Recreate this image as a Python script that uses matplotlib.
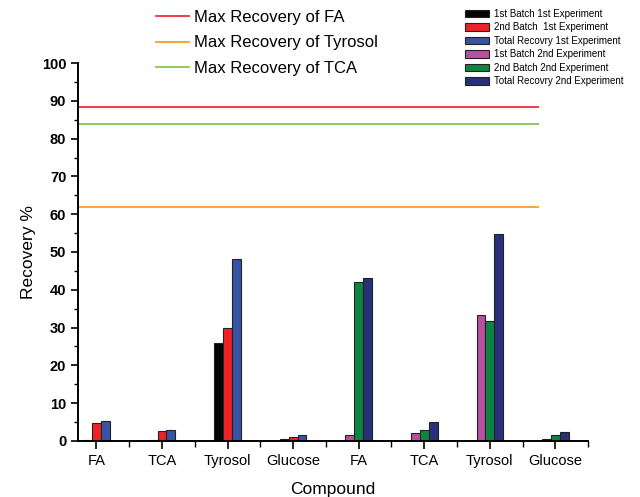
import numpy as np
import matplotlib
matplotlib.use("Agg")
import matplotlib.pyplot as plt
from matplotlib.lines import Line2D
from matplotlib.patches import Patch
from matplotlib.ticker import MultipleLocator

plt.rcParams['font.family'] = ['Liberation Sans', 'DejaVu Sans']

# data
compounds = ['FA', 'TCA', 'Tyrosol', 'Glucose', 'FA', 'TCA', 'Tyrosol', 'Glucose']

# experiment 1 (first four groups)
batch1_exp1 = [0.2, 0.2, 25.8, 0.4]
batch2_exp1 = [4.8, 2.7, 30.0, 1.1]
total_exp1 = [5.2, 3.0, 48.2, 1.6]

# experiment 2 (last four groups)
batch1_exp2 = [1.6, 2.0, 33.4, 0.4]
batch2_exp2 = [42.0, 2.8, 31.8, 1.6]
total_exp2 = [43.2, 5.1, 54.8, 2.3]

max_fa = 88.3
max_tyrosol = 61.8
max_tca = 83.8

series_names = ['1st Batch 1st Experiment', '2nd Batch  1st Experiment',
                'Total Recovry 1st Experiment', '1st Batch 2nd Experiment',
                '2nd Batch 2nd Experiment', 'Total Recovry 2nd Experiment']
bar_colors = ['#050505', '#ee2226', '#3953a4', '#b8509e', '#0e8442', '#28307a']

# figure
fig = plt.figure(figsize=(6.4, 4.97), dpi=100)
ax = fig.add_axes([0.122, 0.113, 0.797, 0.760])

x1 = np.arange(4)
x2 = np.arange(4, 8)
w = 0.135

exp1 = [batch1_exp1, batch2_exp1, total_exp1]
exp2 = [batch1_exp2, batch2_exp2, total_exp2]
for k, vals in enumerate(exp1):
    ax.bar(x1 + (k - 1) * w, vals, w, color=bar_colors[k],
           edgecolor='#222222', linewidth=0.8)
for k, vals in enumerate(exp2):
    ax.bar(x2 + (k - 1) * w, vals, w, color=bar_colors[k + 3],
           edgecolor='#222222', linewidth=0.8)

line_end = 6.75
ax.hlines(max_fa, -0.3, line_end, color='#ed1c24', lw=1.2)
ax.hlines(max_tca, -0.3, line_end, color='#7ac143', lw=1.2)
ax.hlines(max_tyrosol, -0.3, line_end, color='#f7941d', lw=1.2)

ax.set_xlim(-0.28, 7.33)
ax.set_ylim(0, 100)
ax.yaxis.set_major_locator(MultipleLocator(10))
ax.yaxis.set_minor_locator(MultipleLocator(5))
ax.set_xticks(np.arange(8))
ax.set_xticklabels(compounds, fontsize=10.5)
ax.set_xticks(np.arange(8) + 0.5, minor=True)
ax.tick_params(axis='y', labelsize=10.5, width=1.2, length=5)
ax.tick_params(axis='y', which='minor', width=1.0, length=3)
ax.tick_params(axis='x', width=1.2, length=6)
ax.tick_params(axis='x', which='minor', width=1.0, length=4)
for lab in ax.get_yticklabels():
    lab.set_fontweight('bold')

for s in ['top', 'right']:
    ax.spines[s].set_visible(False)
for s in ['left', 'bottom']:
    ax.spines[s].set_linewidth(1.4)

ax.set_xlabel('Compound', fontsize=12.5, labelpad=10)
ax.set_ylabel('Recovery %', fontsize=12.5, labelpad=4)

# legends
line_handles = [Line2D([], [], color='#ed1c24', lw=1.2),
                Line2D([], [], color='#f7941d', lw=1.2),
                Line2D([], [], color='#7ac143', lw=1.2)]
leg1 = ax.legend(line_handles, ['Max Recovery of FA', 'Max Recovery of Tyrosol',
                                'Max Recovery of TCA'],
                 loc='upper left', bbox_to_anchor=(0.233, 0.993),
                 bbox_transform=fig.transFigure, frameon=False,
                 fontsize=12, handlelength=2.0, handletextpad=0.3,
                 labelspacing=0.62, borderaxespad=0)
ax.add_artist(leg1)

bar_handles = [Patch(facecolor=c, edgecolor='#222222', linewidth=0.8)
               for c in bar_colors]
ax.legend(bar_handles, series_names, loc='upper left',
          bbox_to_anchor=(0.721, 0.99), bbox_transform=fig.transFigure,
          frameon=False, fontsize=7, handlelength=2.4, handleheight=0.75,
          handletextpad=0.5, labelspacing=0.36, borderaxespad=0)

fig.savefig('out.png', dpi=100)
